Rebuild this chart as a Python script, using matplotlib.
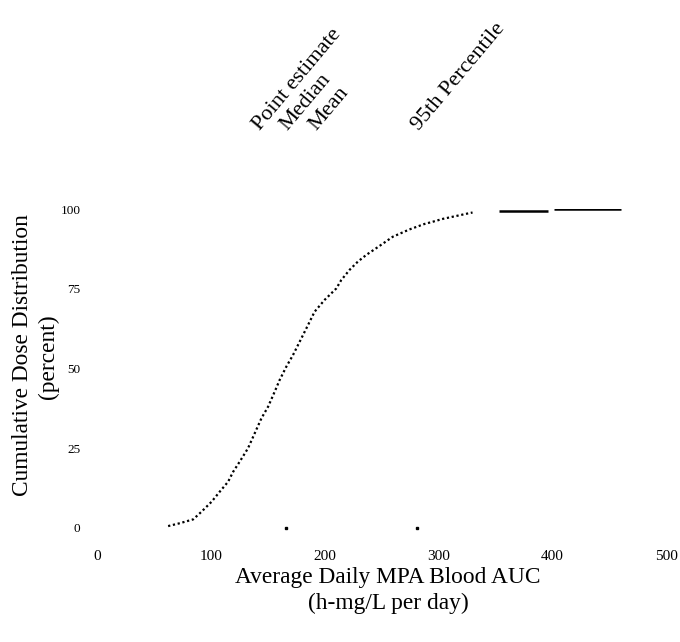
import matplotlib
matplotlib.use("Agg")
import matplotlib.pyplot as plt

plt.rcParams['font.family'] = ['Liberation Serif', 'DejaVu Serif']

# Cumulative distribution curve
curve_auc = [62.5, 72.8, 84.5, 91.8, 100.6, 107.9, 115.2, 119.6, 125.4, 132.7,
             138.6, 144.5, 150.3, 156.1, 160.5, 166.4, 172.2, 178.1, 185.4, 191.2,
             200.0, 210.3, 214.6, 221.9, 229.2, 236.6, 248.2, 259.9, 274.6, 287.7,
             295.0, 303.8, 315.5, 327.2, 330.0]
curve_pct = [0.6, 1.5, 2.7, 5.1, 8.2, 11.4, 14.5, 17.6, 20.8, 25.0,
             29.7, 34.4, 38.0, 42.7, 46.4, 50.6, 54.2, 58.4, 63.6, 67.8,
             71.5, 75.1, 77.7, 80.9, 83.5, 85.6, 88.4, 91.3, 93.6, 95.3,
             96.0, 96.9, 97.8, 98.7, 98.9]

# Final flat steps of the distribution
step_start = [353.5, 401.8]
step_end = [395.9, 460.3]
step_pct = [99.5, 100.0]

# Reference markers on the x axis (median, 95th percentile)
marker_auc = [166, 281]

# Top annotations
annot_labels = ["Point estimate", "Median", "Mean", "95th Percentile"]
annot_auc = [143, 167, 193, 283]

x_ticks = [0, 100, 200, 300, 400, 500]
y_ticks = [0, 25, 50, 75, 100]

W, H = 680, 642
fig = plt.figure(figsize=(W / 100, H / 100), dpi=100)
ax = fig.add_axes([97 / W, (H - 528) / H, 569 / W, 319 / H])
ax.set_xlim(0, 500)
ax.set_ylim(0, 100)

ax.plot(curve_auc, curve_pct, color='black', lw=1.6, linestyle=(0, (1, 1.2)))
ax.hlines(step_pct, step_start, step_end, color='black', lw=1.8)
ax.plot(marker_auc, [0] * len(marker_auc), linestyle='none', marker='s',
        markersize=2, color='black', clip_on=False)

for lab, xv in zip(annot_labels, annot_auc):
    ax.text(xv, 124.5, lab, rotation=50, rotation_mode='anchor', ha='left',
            va='baseline', fontsize=16, clip_on=False)

for s in ax.spines.values():
    s.set_visible(False)

ax.set_xticks(x_ticks)
ax.set_xticklabels([str(v) for v in x_ticks], fontsize=11)
ax.set_yticks(y_ticks)
ax.set_yticklabels([str(v) for v in y_ticks], fontsize=9.5)
ax.tick_params(axis='x', length=0, pad=16)
ax.tick_params(axis='y', length=0, pad=12)

fig.text(23 / W, (H - 355) / H, "Cumulative Dose Distribution", rotation=90,
         ha='center', va='center', fontsize=16.8)
fig.text(48 / W, (H - 357) / H, "(percent)", rotation=90,
         ha='center', va='center', fontsize=16.8)
fig.text(388 / W, (H - 578) / H, "Average Daily MPA Blood AUC",
         ha='center', va='center', fontsize=16.8)
fig.text(388 / W, (H - 603) / H, "(h-mg/L per day)",
         ha='center', va='center', fontsize=16.8)

fig.savefig("out.png", dpi=100)
